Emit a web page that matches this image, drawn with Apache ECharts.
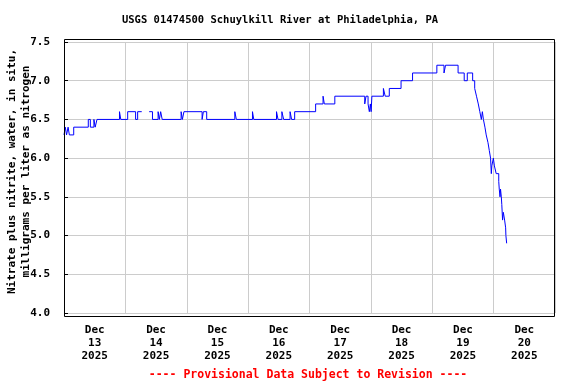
<!DOCTYPE html>
<html>
<head>
<meta charset="utf-8">
<script src="https://cdn.jsdelivr.net/npm/echarts@6/dist/echarts.min.js"></script>
<style>html,body{margin:0;padding:0;background:#fff}#c{width:576px;height:384px}</style>
</head>
<body>
<div id="c"></div>
<script>
// Hours since 2025-12-13 00:00 (local) and nitrate+nitrite (mg/L as N); null = missing
const hours = [0,0.5,1.0,1.6,2.1,3.8,9.5,10.3,11.7,12.2,12.9,21.7,22.2,24.9,28.0,28.8,30.4,30.6,33.3,34.6,36.8,37.3,37.8,38.4,45.8,46.3,46.9,54.0,54.5,55.8,66.8,67.4,73.7,74.2,83.1,83.7,85.2,85.9,88.4,89.0,90.2,98.4,101.3,101.8,105.9,117.6,118.1,118.9,119.4,119.8,120.1,120.4,124.9,125.6,127.2,131.8,136.3,145.8,148.6,149.2,154.1,156.5,157.7,159.8,160.6,161.3,162.0,162.6,163.2,163.6,164.0,164.6,165.1,165.8,166.3,166.8,167.1,167.3,167.9,168.3,169.0,170.0,170.2,170.5,170.7,171.0,171.2,171.5,171.8,172.3,172.7,172.8,173.1];
const nitrate = [6.3,6.4,6.3,6.4,6.3,6.4,6.5,6.4,6.5,6.4,6.5,6.6,6.5,6.6,6.5,6.6,6.6,null,6.6,6.5,6.6,6.5,6.6,6.5,6.6,6.5,6.6,6.5,6.6,6.5,6.6,6.5,6.6,6.5,6.6,6.5,6.6,6.5,6.6,6.5,6.6,6.7,6.8,6.7,6.8,6.7,6.8,6.7,6.6,6.7,6.6,6.8,6.9,6.8,6.9,7.0,7.1,7.2,7.1,7.2,7.1,7.0,7.1,7.0,6.9,6.8,6.7,6.6,6.5,6.6,6.5,6.4,6.3,6.2,6.1,6.0,5.8,5.9,6.0,5.9,5.8,5.7,5.6,5.5,5.6,5.5,5.4,5.2,5.3,5.2,5.1,5.0,4.9];
const dayLabels = ["Dec\n13\n2025","Dec\n14\n2025","Dec\n15\n2025","Dec\n16\n2025","Dec\n17\n2025","Dec\n18\n2025","Dec\n19\n2025","Dec\n20\n2025"];
const yTicks = [4.0,4.5,5.0,5.5,6.0,6.5,7.0,7.5];
const titleText = "USGS 01474500 Schuylkill River at Philadelphia, PA";
const yName1 = "Nitrate plus nitrite, water, in situ,";
const yName2 = "milligrams per liter as nitrogen";
const footText = "---- Provisional Data Subject to Revision ----";

const FONT = '"DejaVu Sans Mono", "Liberation Mono", monospace';
const chart = echarts.init(document.getElementById('c'), null, {renderer: 'canvas'});
const seriesData = hours.map((h, i) => [h, nitrate[i] === null ? '-' : nitrate[i]]);

chart.setOption({
  animation: false,
  backgroundColor: '#ffffff',
  grid: {left: 64, right: 21, top: 42, bottom: 71, show: false},
  xAxis: [
    {
      type: 'value', min: 0, max: 192, interval: 24,
      axisLine: {show: false}, axisTick: {show: false}, axisLabel: {show: false},
      splitLine: {show: true, lineStyle: {color: '#cccccc', width: 1}}
    },
    {
      type: 'category', data: dayLabels, position: 'bottom', boundaryGap: true,
      axisLine: {show: false}, axisTick: {show: false}, splitLine: {show: false},
      axisLabel: {fontFamily: FONT, fontWeight: 'bold', fontSize: 11, color: '#000', lineHeight: 12.8, margin: 11}
    }
  ],
  yAxis: {
    type: 'value', min: yTicks[0], max: yTicks[yTicks.length - 1], interval: 0.5,
    axisLine: {show: false},
    axisTick: {show: true, inside: true, length: 4, lineStyle: {color: '#000'}},
    axisLabel: {fontFamily: FONT, fontWeight: 'bold', fontSize: 11, color: '#000', margin: 14,
      formatter: v => v.toFixed(1)},
    splitLine: {show: true, lineStyle: {color: '#cccccc', width: 1}}
  },
  series: [{
    type: 'line', xAxisIndex: 0, data: seriesData, step: 'end',
    showSymbol: false, connectNulls: false,
    lineStyle: {color: '#0000ff', width: 1}
  }],
  graphic: [
    {type: 'rect', z: 100, silent: true,
      shape: {x: 64.5, y: 39.5, width: 490, height: 277},
      style: {fill: 'none', stroke: '#000', lineWidth: 1}},
    {type: 'text', x: 280, y: 20, silent: true,
      style: {text: titleText, fontFamily: FONT, fontWeight: 'bold', fontSize: 10.5, fill: '#000',
        textAlign: 'center', textVerticalAlign: 'middle'}},
    {type: 'text', x: 308, y: 375, silent: true,
      style: {text: footText, fontFamily: FONT, fontWeight: 'bold', fontSize: 11.5, fill: '#ff0000',
        textAlign: 'center', textVerticalAlign: 'middle'}},
    {type: 'text', x: 19.4, y: 171.5, rotation: Math.PI / 2, silent: true,
      style: {text: yName1 + '\n' + yName2, fontFamily: FONT, fontWeight: 'bold', fontSize: 11, fill: '#000',
        lineHeight: 13.7, textAlign: 'center', textVerticalAlign: 'middle'}}
  ]
});
</script>
</body>
</html>
